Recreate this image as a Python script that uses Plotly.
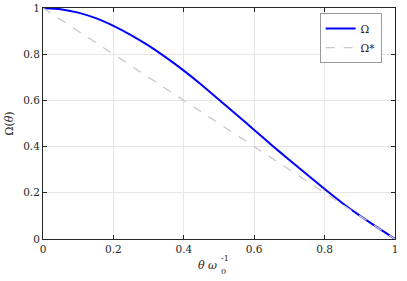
import plotly.graph_objects as go

theta = [0.0, 0.05, 0.1, 0.15, 0.2, 0.25, 0.3, 0.35, 0.4, 0.45, 0.5,
         0.55, 0.6, 0.65, 0.7, 0.75, 0.8, 0.85, 0.9, 0.95, 1.0]
omega = [1.0, 0.995, 0.980, 0.956, 0.923, 0.883, 0.837, 0.785, 0.729, 0.668, 0.603,
         0.538, 0.472, 0.406, 0.342, 0.279, 0.216, 0.156, 0.101, 0.050, 0.0]
theta_star = [0.0, 1.0]
omega_star = [1.0, 0.0]
ticks = [0, 0.2, 0.4, 0.6, 0.8, 1]
tick_text = ["0", "0.2", "0.4", "0.6", "0.8", "1"]

FONT = "DejaVu Serif"
AX = "#262626"
FS = 10.5

fig = go.Figure()
fig.add_trace(go.Scatter(x=theta, y=omega, mode="lines", name="Ω",
                         line=dict(color="#0000ff", width=2, shape="spline", smoothing=0.4)))
fig.add_trace(go.Scatter(x=theta_star, y=omega_star, mode="lines", name="Ω*",
                         line=dict(color="#c8c8c8", width=1.3, dash="dash")))

axis_common = dict(range=[0, 1], tickvals=ticks, ticktext=tick_text,
                   showgrid=True, gridcolor="#e6e6e6", gridwidth=1,
                   zeroline=False, showline=True, linecolor=AX, linewidth=1,
                   mirror="ticks", ticks="inside", ticklen=4, tickcolor=AX,
                   ticklabeloverflow="allow",
                   tickfont=dict(family=FONT, size=FS, color=AX))

fig.update_layout(
    template="none",
    width=407, height=281,
    margin=dict(l=43, r=12, t=8, b=42),
    paper_bgcolor="white", plot_bgcolor="white",
    font=dict(family=FONT, size=FS, color=AX),
    xaxis=dict(**axis_common),
    yaxis=dict(**axis_common, title=dict(text="Ω(<i>θ</i>)", standoff=7,
                                          font=dict(family=FONT, size=11, color=AX))),
    showlegend=True,
    legend=dict(x=0.962, y=0.978, xanchor="right", yanchor="top",
                bgcolor="white", bordercolor="#999999", borderwidth=1,
                font=dict(family=FONT, size=FS, color=AX),
                tracegroupgap=0, itemwidth=30),
)

# x-axis label with stacked sub/superscript
fig.add_annotation(xref="paper", yref="paper", x=0.5, y=-0.113, xanchor="right",
                   yanchor="middle", text="<i>θ ω</i>", showarrow=False,
                   font=dict(family=FONT, size=11, color=AX))
fig.add_annotation(xref="paper", yref="paper", x=0.5, y=-0.083, xanchor="left",
                   yanchor="middle", text="-1", showarrow=False,
                   font=dict(family=FONT, size=8, color=AX))
fig.add_annotation(xref="paper", yref="paper", x=0.5, y=-0.142, xanchor="left",
                   yanchor="middle", text="0", showarrow=False,
                   font=dict(family=FONT, size=8, color=AX))

fig.write_html("out.html", config={"displayModeBar": False},
               post_script="document.body.style.margin='0';document.body.style.padding='0';")
